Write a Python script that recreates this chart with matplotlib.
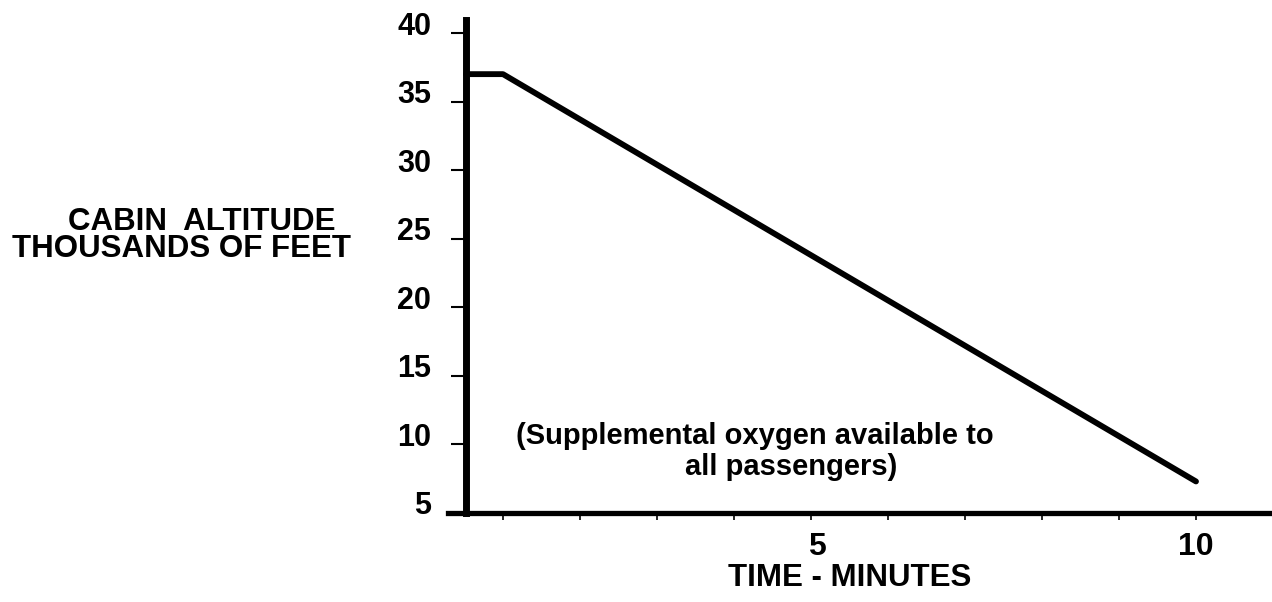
import matplotlib
matplotlib.use("Agg")
import matplotlib.pyplot as plt
import matplotlib.transforms as mtransforms

# ---- data ----
time_min = [0.52, 1.0, 10.0]
altitude_kft = [37.0, 37.0, 7.3]
y_ticks = [5, 10, 15, 20, 25, 30, 35, 40]
y_tick_labels = ["5", "10", "15", "20", "25", "30", "35", "40"]
x_ticks = [1, 2, 3, 4, 5, 6, 7, 8, 9, 10]
x_tick_labels = ["", "", "", "", "5", "", "", "", "", "10"]
y_label_line1 = "CABIN  ALTITUDE"
y_label_line2 = "THOUSANDS OF FEET"
x_label = "TIME - MINUTES"
note_line1 = "(Supplemental oxygen available to"
note_line2 = "all passengers)"

W, H = 1272, 602
fig = plt.figure(figsize=(W / 100, H / 100), dpi=100)
plt.rcParams['font.family'] = ['Liberation Sans', 'DejaVu Sans']
plt.rcParams['font.weight'] = 'bold'

ax_l, ax_r, ax_b, ax_t = 466, 1272, 513, 20
ax = fig.add_axes([ax_l / W, (H - ax_b) / H, (ax_r - ax_l) / W, (ax_b - ax_t) / H])

x0_px, px_per_min = 426, 77.0
ax.set_xlim((ax_l - x0_px) / px_per_min, (ax_r - x0_px) / px_per_min)
px_per_kft = (513 - 33) / 35.0
ax.set_ylim(5, 5 + (ax_b - ax_t) / px_per_kft)

ax.plot(time_min, altitude_kft, color="black", lw=4.2, solid_capstyle="round",
        solid_joinstyle="round", clip_on=False)

for s in ["top", "right"]:
    ax.spines[s].set_visible(False)
ax.spines["left"].set_linewidth(5.0)
ax.spines["bottom"].set_linewidth(3.8)
ax.spines["bottom"].set_bounds((448 - x0_px) / px_per_min, (ax_r - x0_px) / px_per_min)
ax.spines["left"].set_bounds(5, 5 + (ax_b - ax_t) / px_per_kft)

ax.set_yticks(y_ticks)
ax.set_yticklabels(y_tick_labels, fontsize=22, fontweight="bold")
ax.tick_params(axis="y", direction="out", length=11, width=1.5, pad=14)
offset = mtransforms.ScaledTranslation(0, 10 / 100, fig.dpi_scale_trans)
for lab in ax.get_yticklabels():
    lab.set_transform(lab.get_transform() + offset)

ax.set_xticks(x_ticks)
ax.set_xticklabels(x_tick_labels, fontsize=23, fontweight="bold")
ax.tick_params(axis="x", direction="out", length=5, width=1.2, pad=9)
xoff = mtransforms.ScaledTranslation(6 / 100, 0, fig.dpi_scale_trans)
ax.get_xticklabels()[4].set_transform(ax.get_xticklabels()[4].get_transform() + xoff)

fig.text(202 / W, 1 - 222 / H, y_label_line1, ha="center", va="center",
         fontsize=22.5, fontweight="bold")
fig.text(182 / W, 1 - 249 / H, y_label_line2, ha="center", va="center",
         fontsize=22.5, fontweight="bold")
fig.text(850 / W, 1 - 578 / H, x_label, ha="center", va="center", fontsize=22.5,
         fontweight="bold")
fig.text(755 / W, 1 - 436 / H, note_line1, ha="center", va="center", fontsize=21,
         fontweight="bold")
fig.text(791 / W, 1 - 467 / H, note_line2, ha="center", va="center", fontsize=21,
         fontweight="bold")

fig.savefig("out.png", dpi=100)
